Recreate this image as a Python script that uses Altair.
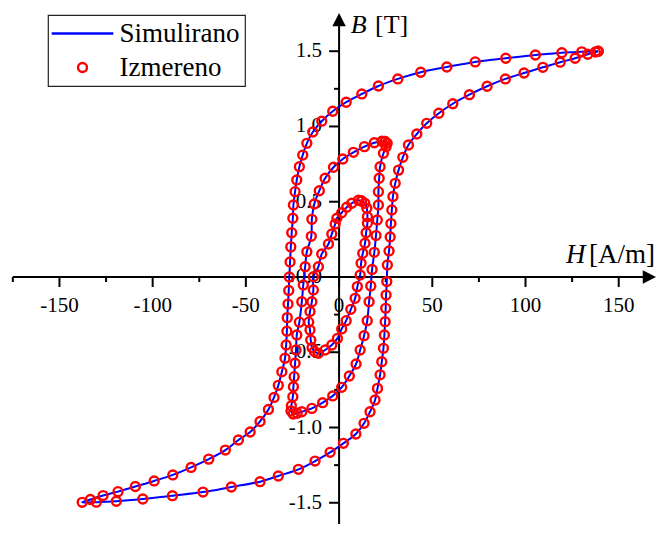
import altair as alt
import pandas as pd

FONT = "Liberation Serif"

# ---------------- data ----------------
loop_names = ["outer", "middle", "inner"]

outer_H = [139.0, 130.2, 119.5, 105.3, 89.4, 73.0, 57.8, 43.8, 31.5, 21.1, 12.2, 3.8,
           -3.4, -9.3, -14.1, -17.3, -19.5, -21.3, -22.7, -23.6, -24.5, -24.8, -25.4,
           -25.9, -26.3, -26.7, -27.0, -27.4, -27.8, -28.0, -28.4, -29.0, -30.7, -32.6,
           -34.9, -37.9, -42.4, -47.7, -54.0, -61.0, -69.9, -79.4, -89.2, -99.2, -109.3,
           -118.6, -126.6, -133.4, -137.8,
           -130.2, -119.5, -105.3, -89.4, -73.0, -57.8, -42.4, -32.6, -21.8, -12.9, -4.8,
           2.3, 9.0, 13.4, 16.6, 19.3, 20.6, 22.0, 22.9, 23.8, 24.3, 24.7, 25.0, 25.2, 25.6,
           25.9, 26.8, 27.4, 27.8, 28.3, 28.9, 30.1, 31.9, 34.2, 37.2, 41.7, 47.0, 53.5,
           61.0, 69.9, 79.4, 89.2, 99.2, 109.3, 118.6, 126.6, 133.4, 137.5, 139.0]
outer_B = [1.500, 1.496, 1.490, 1.475, 1.453, 1.429, 1.395, 1.360, 1.316, 1.269, 1.216,
           1.161, 1.101, 1.035, 0.963, 0.888, 0.810, 0.733, 0.645, 0.567, 0.478, 0.390,
           0.294, 0.200, 0.100, 0.000, -0.090, -0.180, -0.270, -0.360, -0.452, -0.540,
           -0.630, -0.720, -0.800, -0.880, -0.960, -1.030, -1.083, -1.150, -1.210, -1.265,
           -1.315, -1.355, -1.392, -1.426, -1.452, -1.478, -1.497,
           -1.496, -1.490, -1.475, -1.453, -1.429, -1.395, -1.360, -1.322, -1.278, -1.223,
           -1.165, -1.105, -1.043, -0.972, -0.895, -0.817, -0.740, -0.650, -0.563, -0.474,
           -0.385, -0.297, -0.208, -0.120, -0.030, 0.080, 0.173, 0.266, 0.355, 0.445,
           0.535, 0.622, 0.710, 0.795, 0.877, 0.950, 1.021, 1.088, 1.151, 1.211, 1.267,
           1.316, 1.355, 1.393, 1.427, 1.453, 1.480, 1.495, 1.500]

middle_H = [24.6, 23.0, 18.9, 13.6, 7.7, 2.0, -3.0, -7.5, -10.6, -13.3, -14.6, -14.9,
            -17.3, -18.2, -19.2, -20.0, -21.3, -22.7, -23.1, -23.6, -24.1, -24.5, -24.8,
            -25.6, -25.8, -24.6, -22.5,
            -20.0, -14.6, -8.8, -3.4, 1.4, 5.5, 9.1, 11.3, 13.4, 15.1, 16.1, 17.0, 17.7,
            18.9, 19.8, 20.5, 21.1, 21.1, 21.5, 22.0, 23.8, 25.2, 25.8, 24.6]
middle_B = [0.900, 0.902, 0.892, 0.866, 0.828, 0.784, 0.729, 0.656, 0.573, 0.485, 0.383,
            0.270, 0.168, 0.068, -0.053, -0.164, -0.300, -0.385, -0.485, -0.573, -0.662,
            -0.729, -0.795, -0.855, -0.890, -0.910, -0.905,
            -0.895, -0.873, -0.835, -0.790, -0.733, -0.658, -0.578, -0.485, -0.390,
            -0.290, -0.164, -0.060, 0.050, 0.164, 0.275, 0.379, 0.478, 0.567, 0.656,
            0.733, 0.822, 0.865, 0.888, 0.900]

inner_H = [12.0, 10.4, 6.8, 4.1, 1.4, -1.2, -2.1, -3.9, -5.7, -9.3, -11.1, -13.8, -13.8,
           -14.6, -15.6, -16.3, -15.6, -15.2, -14.5, -13.2, -11.1,
           -7.5, -3.9, -0.9, 1.4, 3.8, 6.3, 8.6, 9.8, 11.3, 11.8, 12.7, 13.9, 14.5, 15.2,
           15.2, 14.9, 13.8, 12.0]
inner_B = [0.505, 0.510, 0.490, 0.463, 0.427, 0.390, 0.352, 0.286, 0.219, 0.153, 0.068,
           0.002, -0.086, -0.164, -0.230, -0.300, -0.352, -0.419, -0.470, -0.495, -0.507,
           -0.485, -0.452, -0.408, -0.345, -0.290, -0.215, -0.142, -0.064, 0.013, 0.091,
           0.157, 0.224, 0.294, 0.357, 0.400, 0.456, 0.490, 0.505]

series_names = ["Simulirano", "Izmereno"]
series_colors = ["#0000FF", "#FF0000"]

x_major = [-150, -100, -50, 0, 50, 100, 150]
x_labels = ["-150", "-100", "-50", "0", "50", "100", "150"]
x_minor = [-175, -125, -75, -25, 25, 75, 125]
y_major = [-1.5, -1.0, -0.5, 0.0, 0.5, 1.0, 1.5]
y_labels = ["-1.5", "-1.0", "-0.5", "0.0", "0.5", "1.0", "1.5"]
y_minor = [-1.25, -0.75, -0.25, 0.25, 0.75, 1.25]
x_domain = [-177.6, 170.0]
y_domain = [-1.641, 1.787]
x_axis_span = [-175.0, 166.5]
y_axis_span = [-1.75, 1.71]
title_parts = [("H", "[A/m]"), ("B", "[T]")]

# ---------------- build tables ----------------
rows = []
for name, hs, bs in zip(loop_names, [outer_H, middle_H, inner_H], [outer_B, middle_B, inner_B]):
    for i, (h, b) in enumerate(zip(hs, bs)):
        rows.append({"loop": name, "i": i, "H": h, "B": b})
df = pd.DataFrame(rows)

xs = alt.Scale(domain=x_domain, nice=False, zero=False)
ys = alt.Scale(domain=y_domain, nice=False, zero=False)

def X(f="H:Q"):
    return alt.X(f, scale=xs, axis=None)

def Y(f="B:Q"):
    return alt.Y(f, scale=ys, axis=None)

line_symbol = "M-6.89,0H6.89"
color_scale = alt.Scale(domain=series_names, range=series_colors)
shape_scale = alt.Scale(domain=series_names, range=[line_symbol, "circle"])

# axis lines
xline = alt.Chart(pd.DataFrame({"H": [x_axis_span[0]], "H2": [x_axis_span[1]], "B": [0.0]})).mark_rule(
    color="black", strokeWidth=2).encode(x=X(), x2="H2:Q", y=Y())
yline = alt.Chart(pd.DataFrame({"H": [0.0], "B": [y_axis_span[0]], "B2": [y_axis_span[1]]})).mark_rule(
    color="black", strokeWidth=2).encode(x=X(), y=Y(), y2="B2:Q")

# ticks
x_major_df = pd.DataFrame({"H": x_major, "B": [0.0] * len(x_major), "lab": x_labels})
y_major_df = pd.DataFrame({"H": [0.0] * len(y_major), "B": y_major, "lab": y_labels})
xmaj = alt.Chart(x_major_df).mark_tick(
    orient="vertical", size=10, thickness=2, color="black", yOffset=5, opacity=1).encode(x=X(), y=Y())
ymaj = alt.Chart(y_major_df).mark_tick(
    orient="horizontal", size=10, thickness=2, color="black", xOffset=-5, opacity=1).encode(x=X(), y=Y())
xminor = alt.Chart(pd.DataFrame({"H": x_minor, "B": [0.0] * len(x_minor)})).mark_tick(
    orient="vertical", size=5, thickness=2, color="black", yOffset=2.5, opacity=1).encode(x=X(), y=Y())
yminor = alt.Chart(pd.DataFrame({"H": [0.0] * len(y_minor), "B": y_minor})).mark_tick(
    orient="horizontal", size=5, thickness=2, color="black", xOffset=-2.5, opacity=1).encode(x=X(), y=Y())

# tick labels
xlab = alt.Chart(x_major_df).mark_text(
    font=FONT, fontSize=21, color="black", align="center", baseline="alphabetic", yOffset=35).encode(
    x=X(), y=Y(), text="lab:N")
ylab = alt.Chart(y_major_df).mark_text(
    font=FONT, fontSize=21, color="black", align="right", baseline="middle", xOffset=-17).encode(
    x=X(), y=Y(), text="lab:N")

arrow_right = alt.Chart(pd.DataFrame({"H": [x_axis_span[1]], "B": [0.0]})).mark_point(
    shape="M1,0L-1,-1L-1,1Z", filled=True, size=180, color="black", opacity=1).encode(x=X(), y=Y())
arrow_up = alt.Chart(pd.DataFrame({"H": [0.0], "B": [y_axis_span[1]]})).mark_point(
    shape="M0,-1L-1,1L1,1Z", filled=True, size=180, color="black", opacity=1).encode(x=X(), y=Y())

sim_line = alt.Chart(df).transform_calculate(series="'Simulirano'").mark_line(
    interpolate="catmull-rom", strokeWidth=2).encode(
    x=X(), y=Y(), detail="loop:N", order="i:Q",
    color=alt.Color("series:N", scale=color_scale, title=None),
)
meas_pts = alt.Chart(df).transform_calculate(series="'Izmereno'").mark_point(
    filled=False, size=80, strokeWidth=2.4, opacity=1).encode(
    x=X(), y=Y(),
    color=alt.Color("series:N", scale=color_scale, title=None),
    shape=alt.Shape("series:N", scale=shape_scale, title=None),
)

one = pd.DataFrame({"k": [0]})
def label(txt, x, y, italic, size):
    kw = dict(font=FONT, fontSize=size, color="black", align="left", baseline="alphabetic")
    if italic:
        kw["fontStyle"] = "italic"
    return alt.Chart(one).mark_text(**kw).encode(x=alt.value(x), y=alt.value(y), text=alt.value(txt))

titles = [
    label(title_parts[0][0], 558.0, 255.3, True, 27),
    label(title_parts[0][1], 581.0, 255.3, False, 27),
    label(title_parts[1][0], 342.7, 25.3, True, 26),
    label(title_parts[1][1], 367.0, 25.3, False, 26),
]

chart = alt.layer(
    xlab, ylab, xline, yline, xmaj, ymaj, xminor, yminor, arrow_right, arrow_up,
    sim_line, meas_pts, *titles
).properties(
    width=648, height=516,
    autosize=alt.AutoSizeParams(type="none"),
    padding={"left": 0, "top": 0, "right": 0, "bottom": 0},
).configure_view(strokeWidth=0).configure_legend(
    orient="none", legendX=40, legendY=7, padding=5,
    strokeColor="#222222", strokeWidth=1.2, fillColor="white",
    labelFont=FONT, labelFontSize=27, labelColor="black",
    labelOffset=23.5, symbolOffset=16, symbolSize=80, symbolStrokeWidth=2.4,
    rowPadding=6, labelLimit=300,
)

chart.save("out.html", embed_options={"renderer": "svg", "actions": False})
